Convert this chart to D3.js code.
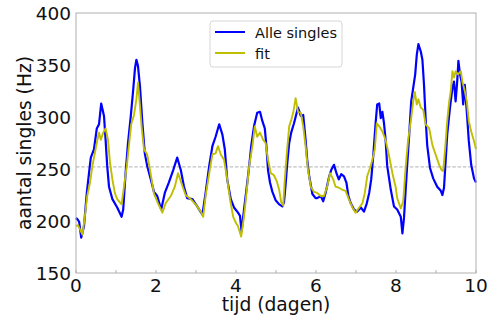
<!DOCTYPE html>
<html>
<head>
<meta charset="utf-8">
<script src="https://cdn.jsdelivr.net/npm/d3@7"></script>
<style>
  body { margin: 0; background: #fff; }
  svg { font-family: "DejaVu Sans", sans-serif; }
</style>
</head>
<body>
<div id="chart"></div>
<script>
// data (tijd in dagen, singles in Hz)
const blueT = [0, 0.05, 0.08, 0.13, 0.2, 0.27, 0.325, 0.37, 0.45, 0.52, 0.575, 0.63, 0.7, 0.74, 0.78, 0.825, 0.91, 1.03, 1.14, 1.18, 1.24, 1.3, 1.37, 1.43, 1.475, 1.51, 1.55, 1.6, 1.66, 1.72, 1.78, 1.87, 1.95, 2.03, 2.13, 2.22, 2.32, 2.43, 2.53, 2.62, 2.7, 2.78, 2.91, 3.03, 3.16, 3.24, 3.33, 3.41, 3.49, 3.58, 3.66, 3.72, 3.78, 3.87, 3.95, 4.05, 4.1, 4.14, 4.2, 4.27, 4.33, 4.38, 4.45, 4.53, 4.6, 4.66, 4.72, 4.76, 4.8, 4.85, 4.91, 4.99, 5.08, 5.16, 5.2, 5.24, 5.28, 5.33, 5.38, 5.45, 5.55, 5.62, 5.68, 5.74, 5.78, 5.83, 5.91, 5.99, 6.03, 6.12, 6.18, 6.24, 6.33, 6.38, 6.45, 6.52, 6.57, 6.63, 6.7, 6.76, 6.81, 6.87, 6.95, 7.03, 7.12, 7.2, 7.27, 7.33, 7.38, 7.43, 7.49, 7.53, 7.58, 7.62, 7.66, 7.7, 7.74, 7.78, 7.87, 7.95, 8.03, 8.12, 8.16, 8.2, 8.24, 8.28, 8.33, 8.38, 8.43, 8.48, 8.52, 8.56, 8.62, 8.66, 8.7, 8.74, 8.78, 8.85, 8.93, 9.03, 9.12, 9.16, 9.2, 9.24, 9.28, 9.35, 9.41, 9.45, 9.49, 9.53, 9.56, 9.6, 9.64, 9.68, 9.72, 9.77, 9.82, 9.88, 9.95, 10];
const blueV = [203, 201, 199, 184, 195, 227, 246, 261, 269, 289, 293, 313, 301, 278, 253, 233, 221, 213, 204, 211, 246, 275, 301, 326, 347, 355, 349, 329, 294, 265, 253, 240, 228, 224, 211, 227, 237, 249, 261, 249, 233, 222, 221, 214, 206, 227, 253, 272, 281, 293, 283, 269, 240, 221, 213, 208, 205, 190, 211, 233, 253, 272, 291, 304, 305, 296, 289, 272, 249, 237, 228, 220, 216, 214, 218, 235, 255, 275, 285, 294, 309, 301, 302, 278, 259, 243, 226, 222, 222, 224, 219, 227, 243, 249, 254, 245, 240, 245, 243, 237, 224, 217, 211, 209, 213, 209, 217, 227, 240, 262, 294, 312, 313, 299, 305, 294, 278, 253, 230, 214, 211, 204, 188, 203, 229, 254, 283, 315, 328, 341, 360, 370, 363, 355, 331, 299, 273, 251, 241, 233, 229, 225, 232, 257, 283, 309, 328, 334, 315, 334, 354, 341, 334, 312, 331, 305, 277, 254, 241, 237];

const fitT = [0, 0.05, 0.1, 0.16, 0.22, 0.28, 0.35, 0.41, 0.47, 0.53, 0.575, 0.62, 0.68, 0.74, 0.8, 0.85, 0.91, 0.97, 1.03, 1.14, 1.2, 1.27, 1.33, 1.38, 1.45, 1.51, 1.55, 1.59, 1.64, 1.7, 1.78, 1.85, 1.95, 2.05, 2.16, 2.24, 2.37, 2.47, 2.55, 2.63, 2.74, 2.87, 2.99, 3.12, 3.18, 3.24, 3.33, 3.41, 3.49, 3.55, 3.62, 3.7, 3.77, 3.85, 3.93, 4.0, 4.05, 4.13, 4.2, 4.27, 4.33, 4.41, 4.47, 4.53, 4.6, 4.68, 4.74, 4.8, 4.87, 4.95, 5.02, 5.08, 5.13, 5.18, 5.22, 5.27, 5.33, 5.38, 5.43, 5.49, 5.55, 5.62, 5.68, 5.74, 5.8, 5.87, 5.95, 6.03, 6.12, 6.2, 6.28, 6.35, 6.43, 6.49, 6.57, 6.66, 6.74, 6.82, 6.91, 6.99, 7.08, 7.16, 7.22, 7.28, 7.35, 7.41, 7.47, 7.52, 7.58, 7.66, 7.74, 7.83, 7.91, 7.99, 8.03, 8.12, 8.18, 8.24, 8.3, 8.37, 8.43, 8.47, 8.52, 8.56, 8.62, 8.68, 8.74, 8.83, 8.91, 8.99, 9.08, 9.14, 9.18, 9.23, 9.28, 9.33, 9.37, 9.41, 9.45, 9.49, 9.55, 9.62, 9.66, 9.72, 9.77, 9.82, 9.88, 9.95, 10];
const fitV = [195, 196, 192, 187, 204, 224, 237, 253, 265, 277, 285, 278, 285, 289, 278, 256, 240, 227, 221, 216, 233, 253, 275, 293, 302, 317, 333, 315, 291, 269, 264, 249, 226, 217, 208, 217, 224, 233, 246, 237, 225, 221, 216, 209, 204, 224, 246, 264, 265, 272, 264, 259, 243, 221, 204, 198, 195, 185, 204, 230, 253, 272, 291, 281, 285, 278, 275, 259, 246, 244, 238, 230, 218, 215, 240, 265, 291, 297, 304, 318, 305, 304, 291, 272, 249, 233, 228, 227, 224, 224, 233, 246, 240, 233, 232, 230, 229, 221, 213, 208, 213, 217, 227, 243, 251, 259, 269, 294, 291, 286, 278, 262, 246, 233, 222, 212, 219, 251, 277, 296, 315, 324, 312, 317, 309, 307, 293, 289, 273, 264, 254, 249, 248, 270, 296, 315, 325, 344, 338, 344, 341, 344, 334, 325, 315, 296, 286, 277, 269];

const meanLevel = 252;
const xTicks = [0, 2, 4, 6, 8, 10];
const xMinorTicks = [1, 3, 5, 7, 9];
const yTicks = [150, 200, 250, 300, 350, 400];
const seriesNames = ["Alle singles", "fit"];

const width = 492;
const height = 320;
const margin = { top: 13, right: 16, bottom: 47, left: 76 };

const svg = d3.select("#chart")
    .append("svg")
    .attr("width", width)
    .attr("height", height);

const x = d3.scaleLinear().domain([0, 10]).range([margin.left, width - margin.right]);
const y = d3.scaleLinear().domain([150, 400]).range([height - margin.bottom, margin.top]);

// mean level, dashed
svg.append("line")
    .attr("x1", x(0)).attr("x2", x(10))
    .attr("y1", y(meanLevel)).attr("y2", y(meanLevel))
    .attr("stroke", "#a8a8a8")
    .attr("stroke-width", 0.9)
    .attr("stroke-dasharray", "3.5,1.8");

const line = d3.line()
    .x(d => x(d[0]))
    .y(d => y(d[1]));

svg.append("path")
    .datum(blueT.map((t, i) => [t, blueV[i]]))
    .attr("fill", "none")
    .attr("stroke", "#0000ff")
    .attr("stroke-width", 2.2)
    .attr("stroke-linejoin", "round")
    .attr("d", line);

svg.append("path")
    .datum(fitT.map((t, i) => [t, fitV[i]]))
    .attr("fill", "none")
    .attr("stroke", "#bfbf00")
    .attr("stroke-width", 1.9)
    .attr("stroke-linejoin", "round")
    .attr("d", line);

// frame
svg.append("rect")
    .attr("x", x(0)).attr("y", y(400))
    .attr("width", x(10) - x(0))
    .attr("height", y(150) - y(400))
    .attr("fill", "none")
    .attr("stroke", "#b0b0b0")
    .attr("stroke-width", 1);

// inward ticks on the bottom spine
svg.append("g")
    .selectAll("line")
    .data(xTicks.concat(xMinorTicks))
    .enter()
    .append("line")
    .attr("x1", d => x(d)).attr("x2", d => x(d))
    .attr("y1", y(150)).attr("y2", y(150) - 3)
    .attr("stroke", "#b0b0b0");

svg.append("g")
    .selectAll("text")
    .data(xTicks)
    .enter()
    .append("text")
    .attr("x", d => x(d))
    .attr("y", 292)
    .attr("text-anchor", "middle")
    .attr("font-size", 18.5)
    .attr("fill", "#111")
    .text(d => d);

svg.append("g")
    .selectAll("text")
    .data(yTicks)
    .enter()
    .append("text")
    .attr("x", 71)
    .attr("y", d => y(d) + 6.5)
    .attr("text-anchor", "end")
    .attr("font-size", 18.5)
    .attr("fill", "#111")
    .text(d => d);

svg.append("text")
    .attr("x", (x(0) + x(10)) / 2)
    .attr("y", 311)
    .attr("text-anchor", "middle")
    .attr("font-size", 18.7)
    .attr("fill", "#111")
    .text("tijd (dagen)");

svg.append("text")
    .attr("transform", `translate(31,${(y(150) + y(400)) / 2}) rotate(-90)`)
    .attr("text-anchor", "middle")
    .attr("font-size", 18.7)
    .attr("fill", "#111")
    .text("aantal singles (Hz)");

// legend
const legend = svg.append("g").attr("transform", "translate(210,21)");
legend.append("rect")
    .attr("width", 132).attr("height", 46)
    .attr("rx", 3)
    .attr("fill", "#fff").attr("fill-opacity", 0.85)
    .attr("stroke", "#d6d6d6");
const legendColors = ["#0000ff", "#bfbf00"];
seriesNames.forEach((name, i) => {
    legend.append("line")
        .attr("x1", 5).attr("x2", 35)
        .attr("y1", 11 + i * 21).attr("y2", 11 + i * 21)
        .attr("stroke", legendColors[i])
        .attr("stroke-width", 2);
    legend.append("text")
        .attr("x", 45)
        .attr("y", 16.5 + i * 21)
        .attr("font-size", 14.5)
        .attr("fill", "#111")
        .text(name);
});
</script>
</body>
</html>
